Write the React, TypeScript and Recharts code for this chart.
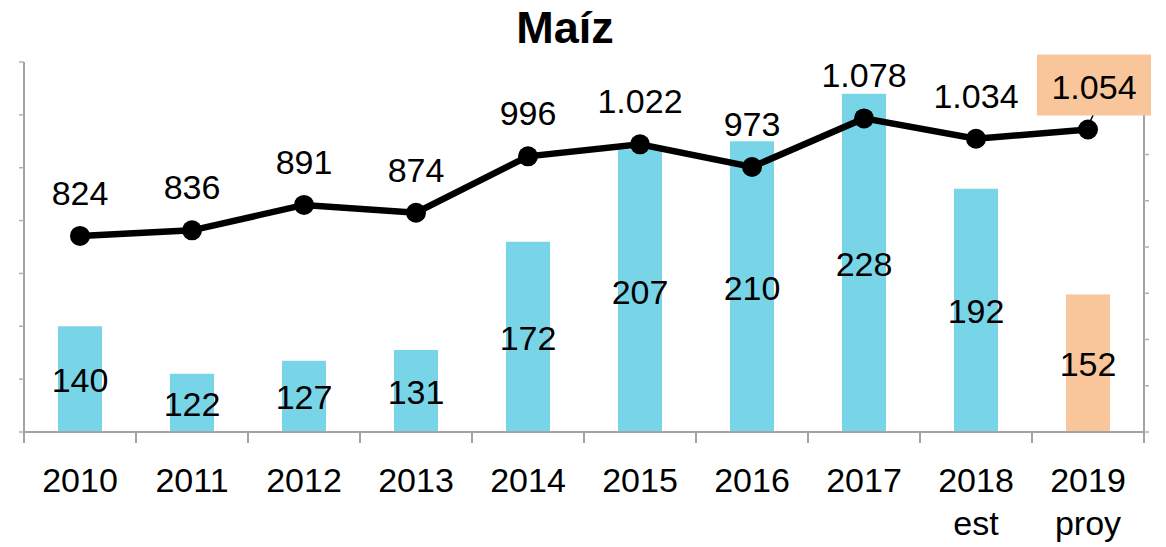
import React from 'react';
import { ComposedChart, Bar, Line, XAxis, YAxis, Cell, LabelList } from 'recharts';

const categories = ['2010', '2011', '2012', '2013', '2014', '2015', '2016', '2017', '2018', '2019'];
const subLabels = ['', '', '', '', '', '', '', '', 'est', 'proy'];
const barValues = [140, 122, 127, 131, 172, 207, 210, 228, 192, 152];
const lineValues = [824, 836, 891, 874, 996, 1022, 973, 1078, 1034, 1054];
const leftTicks = [100, 120, 140, 160, 180, 200, 220, 240];
const rightTicks = [400, 500, 600, 700, 800, 900, 1000, 1100, 1200];
const title = 'Maíz';

const data = categories.map((c, i) => ({ name: c, sub: subLabels[i], stock: barValues[i], prod: lineValues[i] }));

const WIDTH = 1166;
const HEIGHT = 547;
const LEFT_W = 24;
const RIGHT_W = 22;
const TOP = 62;
const XAXIS_H = 115;
const BAND = (WIDTH - LEFT_W - RIGHT_W) / categories.length;
const FONT = '"Liberation Sans", Arial, sans-serif';
const AXIS = '#A3A3A3';
const CYAN = '#78D5E8';
const ORANGE = '#F9C69C';
const FS = 34;

const fmt = (v: number) =>
  v >= 1000 ? `${Math.floor(v / 1000)}.${String(v % 1000).padStart(3, '0')}` : String(v);

const XTick = (props: any) => {
  const { x, y, payload, index } = props;
  const i = payload && payload.index != null ? payload.index : index;
  const sub = subLabels[i] || '';
  const isLast = i === categories.length - 1;
  return (
    <g>
      <line x1={x - BAND / 2} y1={y} x2={x - BAND / 2} y2={y + 11} stroke={AXIS} strokeWidth={2} />
      {isLast && <line x1={x + BAND / 2} y1={y} x2={x + BAND / 2} y2={y + 11} stroke={AXIS} strokeWidth={2} />}
      <text x={x} y={y + 60} textAnchor="middle" fontSize={FS} fontFamily={FONT} fill="#000">
        {payload.value}
      </text>
      {sub && (
        <text x={x} y={y + 103} textAnchor="middle" fontSize={FS} fontFamily={FONT} fill="#000">
          {sub}
        </text>
      )}
    </g>
  );
};

const LineLabel = (props: any) => {
  const { x, y, value, index } = props;
  const isLast = index === lineValues.length - 1;
  return (
    <g>
      {isLast && (
        <>
          <rect x={x + 6 - 57} y={y - 44 - 31} width={114} height={61} fill={ORANGE} />
          <line x1={x + 5} y1={y - 14} x2={x + 2} y2={y - 8} stroke="#000" strokeWidth={1.5} />
        </>
      )}
      <text
        x={isLast ? x + 6 : x}
        y={y - 43}
        textAnchor="middle"
        dominantBaseline="central"
        fontSize={FS}
        fontFamily={FONT}
        fill="#000"
      >
        {fmt(value)}
      </text>
    </g>
  );
};

const BarLabel = (props: any) => {
  const { x, y, width, height, value } = props;
  return (
    <text
      x={x + width / 2}
      y={y + height / 2 + 1}
      textAnchor="middle"
      dominantBaseline="central"
      fontSize={FS}
      fontFamily={FONT}
      fill="#000"
    >
      {value}
    </text>
  );
};

export default function App() {
  return (
    <div style={{ position: 'absolute', left: 0, top: 0, width: WIDTH, height: HEIGHT, background: '#fff' }}>
      <ComposedChart
        width={WIDTH}
        height={HEIGHT}
        data={data}
        margin={{ top: TOP, right: 0, bottom: 0, left: 0 }}
        style={{ fontFamily: FONT }}
      >
        <XAxis
          dataKey="name"
          xAxisId="x"
          height={XAXIS_H}
          interval={0}
          tickSize={0}
          tickMargin={0}
          tickLine={false}
          axisLine={{ stroke: AXIS, strokeWidth: 2 }}
          tick={<XTick />}
        />
        <YAxis
          yAxisId="left"
          orientation="left"
          width={LEFT_W}
          domain={[100, 240]}
          ticks={leftTicks}
          interval={0}
          tickSize={5}
          tickFormatter={() => ''}
          axisLine={{ stroke: AXIS, strokeWidth: 2 }}
          tickLine={{ stroke: '#B0B0B0', strokeWidth: 1.5 }}
        />
        <YAxis
          yAxisId="right"
          orientation="right"
          width={RIGHT_W}
          domain={[400, 1200]}
          ticks={rightTicks}
          interval={0}
          tickSize={5}
          tickFormatter={() => ''}
          axisLine={{ stroke: AXIS, strokeWidth: 2 }}
          tickLine={{ stroke: '#B0B0B0', strokeWidth: 1.5 }}
        />
        <Bar dataKey="stock" xAxisId="x" yAxisId="left" barSize={44} isAnimationActive={false}>
          {data.map((d, i) => (
            <Cell key={d.name} fill={i === data.length - 1 ? ORANGE : CYAN} />
          ))}
          <LabelList dataKey="stock" content={<BarLabel />} />
        </Bar>
        <Line
          dataKey="prod"
          xAxisId="x"
          yAxisId="right"
          stroke="#000"
          strokeWidth={6.5}
          dot={{ r: 10, fill: '#000', stroke: '#000', strokeWidth: 0 }}
          activeDot={false}
          isAnimationActive={false}
        >
          <LabelList dataKey="prod" content={<LineLabel />} />
        </Line>
      </ComposedChart>
      <svg
        width={WIDTH}
        height={60}
        style={{ position: 'absolute', left: 0, top: 0, pointerEvents: 'none' }}
      >
        <text x={565} y={43} textAnchor="middle" fontSize={45} fontWeight="bold" fontFamily={FONT} fill="#000">
          {title}
        </text>
      </svg>
    </div>
  );
}
